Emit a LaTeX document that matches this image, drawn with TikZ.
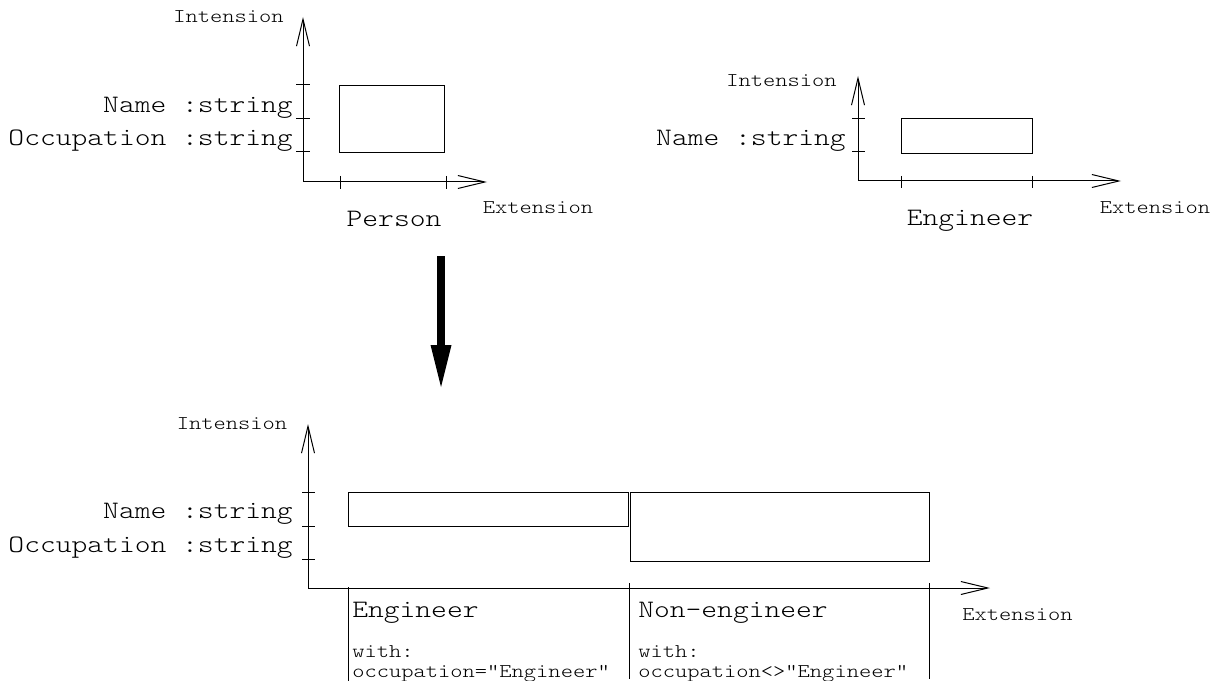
\documentclass[tikz,border=0pt]{standalone}
\usepackage{fontspec}
\setmonofont[FakeStretch=1.2]{Latin Modern Mono Light}
\usetikzlibrary{arrows.meta,fit}

\begin{document}
\begin{tikzpicture}[x=0.75pt,y=-0.75pt,
  axis/.style={line width=0.75pt,-{Straight Barb[length=20.25pt,width=9.75pt,line join=miter]}},
  tick/.style={line width=0.75pt},
  divider/.style={line width=0.75pt},
  extbox/.style={draw,line width=0.75pt,inner sep=0pt},
  big/.style={font=\ttfamily\fontsize{18.8pt}{23pt}\selectfont,inner sep=0pt},
  small/.style={font=\ttfamily\fontsize{14.6pt}{19pt}\selectfont,inner sep=0pt},
  trans/.style={line width=6pt,-{Triangle[length=31.5pt,width=15.75pt,line width=0pt]}}
]
\useasboundingbox (0,0) rectangle (1220,681);

% ---------- Person ----------
\coordinate (p0) at (303,182);
\coordinate (pY) at (303,17);
\coordinate (pX) at (487,182);
\draw[axis] (p0) -- (pY);
\draw[axis] (p0) -- (pX);
\foreach \y in {85,119,152} \draw[tick] (296,\y) -- (310,\y);
\foreach \x in {340,446} \draw[tick] (\x,176) -- (\x,189);
\node[extbox,fit={(339,86) (444,153)}] (personBox) {};
\node[small,anchor=base] (pInt) at (228.5,23) {Intension};
\node[big,anchor=base east] (pName) at (293,113) {Name :string};
\node[big,anchor=base east] (pOcc) at (293,146) {Occupation :string};
\node[big,anchor=base] (pLbl) at (394,226) {Person};
\node[small,anchor=base] (pExt) at (538,213) {Extension};

% ---------- Engineer ----------
\coordinate (e0) at (858,181);
\coordinate (eY) at (858,76);
\coordinate (eX) at (1121,181);
\draw[axis] (e0) -- (eY);
\draw[axis] (e0) -- (eX);
\foreach \y in {119,152} \draw[tick] (852,\y) -- (865,\y);
\foreach \x in {901,1032} \draw[tick] (\x,176) -- (\x,188);
\node[extbox,fit={(901,119) (1032,154)}] (engBox) {};
\node[small,anchor=base] (eInt) at (781.5,87) {Intension};
\node[big,anchor=base east] (eName) at (846,146) {Name :string};
\node[big,anchor=base] (eLbl) at (970,225) {Engineer};
\node[small,anchor=base] (eExt) at (1155,214) {Extension};

% ---------- transformation ----------
\coordinate (transA) at (441,256);
\coordinate (transB) at (441,387);
\draw[trans] (transA) -- (transB);

% ---------- Person split into two classes ----------
\coordinate (s0) at (308,588);
\coordinate (sY) at (308,424);
\coordinate (sX) at (990,588);
\draw[axis] (s0) -- (sY);
\draw[axis] (s0) -- (sX);
\foreach \y in {492,526,559} \draw[tick] (302,\y) -- (315,\y);
\node[extbox,fit={(348,492) (628,526)}] (subEng) {};
\node[extbox,fit={(630,492) (929,561)}] (subNon) {};
\coordinate (d1a) at (348,587); \coordinate (d1b) at (348,681);
\coordinate (d2a) at (629,583); \coordinate (d2b) at (629,679);
\coordinate (d3a) at (929,583); \coordinate (d3b) at (929,679);
\draw[divider] (d1a) -- (d1b);
\draw[divider] (d2a) -- (d2b);
\draw[divider] (d3a) -- (d3b);
\node[small,anchor=base] (sInt) at (232,429) {Intension};
\node[big,anchor=base east] (sName) at (293,518) {Name :string};
\node[big,anchor=base east] (sOcc) at (293,552) {Occupation :string};
\node[small,anchor=base] (sExt) at (1017.5,620) {Extension};
\node[big,anchor=base west] (sEng) at (352,617) {Engineer};
\node[small,anchor=base west] (sEngW) at (352,657) {with:};
\node[small,anchor=base west] (sEngC) at (352,677) {occupation="Engineer"};
\node[big,anchor=base west] (sNon) at (638,617) {Non-engineer};
\node[small,anchor=base west] (sNonW) at (638,657) {with:};
\node[small,anchor=base west] (sNonC) at (638,677) {occupation<>"Engineer"};
\end{tikzpicture}
\end{document}
